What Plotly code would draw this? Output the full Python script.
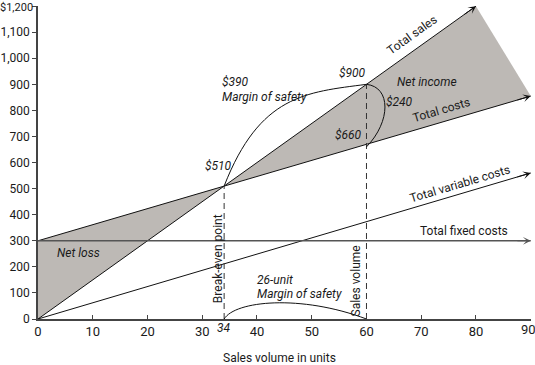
import math
import plotly.graph_objects as go

# ---- data ----
sales_x = [0, 80]
sales_y = [0, 1200]
cost_x = [0, 90]
cost_y = [300, 855]
var_x = [0, 90]
var_y = [0, 560]
fixed_x = [0, 90]
fixed_y = [300, 300]
breakeven_units = 34
breakeven_dollars = 510
volume_units = 60
volume_sales = 900
volume_costs = 660
x_ticks = [0, 10, 20, 30, 40, 50, 60, 70, 80, 90]
y_ticks = [0, 100, 200, 300, 400, 500, 600, 700, 800, 900, 1000, 1100, 1200]
y_labels = ["0", "100", "200", "300", "400", "500", "600", "700", "800", "900",
            "1,000", "1,100", "$1,200"]

FONT = "Roboto, Liberation Sans Narrow, sans-serif"
W, H = 535, 365
M = dict(l=38, r=4, t=6, b=46)
XR = [0, 90.05]
YR = [0, 1200.5]
pxx = (W - M["l"] - M["r"]) / (XR[1] - XR[0])
pxy = (H - M["t"] - M["b"]) / (YR[1] - YR[0])


def angle(xs, ys):
    return -math.degrees(math.atan2((ys[1] - ys[0]) * pxy, (xs[1] - xs[0]) * pxx))


fig = go.Figure()

GRAY = "#bdb9b5"
# Net loss triangle
fig.add_trace(go.Scatter(
    x=[0, 0, breakeven_units, 0], y=[0, fixed_y[0], breakeven_dollars, 0],
    fill="toself", fillcolor=GRAY, line=dict(width=0), mode="lines",
    hoverinfo="skip", showlegend=False))
# Net income region
fig.add_trace(go.Scatter(
    x=[breakeven_units, sales_x[1], cost_x[1], breakeven_units],
    y=[breakeven_dollars, sales_y[1], cost_y[1], breakeven_dollars],
    fill="toself", fillcolor=GRAY, line=dict(width=0), mode="lines",
    hoverinfo="skip", showlegend=False))

# lines
for xs, ys, w, c in [(sales_x, sales_y, 1, "#111"), (cost_x, cost_y, 1, "#111"),
                     (var_x, var_y, 1, "#111"), (fixed_x, fixed_y, 1.6, "#555")]:
    fig.add_trace(go.Scatter(x=xs, y=ys, mode="lines", line=dict(color=c, width=w),
                             hoverinfo="skip", showlegend=False, cliponaxis=False))
    t = 0.97
    fig.add_annotation(x=xs[1], y=ys[1], ax=xs[0] + (xs[1] - xs[0]) * t,
                       ay=ys[0] + (ys[1] - ys[0]) * t, xref="x", yref="y",
                       axref="x", ayref="y", showarrow=True, text="",
                       arrowhead=3, arrowsize=1.3, arrowwidth=1, arrowcolor=c,
                       standoff=0, startstandoff=0)

# dashed verticals
for xv, yv in [(breakeven_units, breakeven_dollars), (volume_units, volume_sales)]:
    fig.add_trace(go.Scatter(x=[xv, xv], y=[0, yv], mode="lines",
                             line=dict(color="#333", width=1, dash="6px,4px"),
                             hoverinfo="skip", showlegend=False))

# curves
shapes = []
shapes.append(dict(type="path", xref="x", yref="y",
                   path=f"M {breakeven_units},{breakeven_dollars} C 40.5,859 48.9,870 {volume_units},{volume_sales}",
                   line=dict(color="#111", width=1)))
shapes.append(dict(type="path", xref="x", yref="y",
                   path=f"M {volume_units},{volume_sales} C 64.5,890 64.5,758 {volume_units},{volume_costs}",
                   line=dict(color="#111", width=1)))
shapes.append(dict(type="path", xref="x", yref="y",
                   path=f"M {breakeven_units},0 C 36,70 48,95 {volume_units},0",
                   line=dict(color="#111", width=1)))

FS = 12


def ann(text, x, y, xanchor="center", italic=False, angle_=0, yref="y", size=FS,
        xref="x", xshift=0, yshift=0):
    t = f"<i>{text}</i>" if italic else text
    fig.add_annotation(x=x, y=y, xref=xref, yref=yref, text=t, showarrow=False,
                       xanchor=xanchor, yanchor="middle", textangle=angle_,
                       xshift=xshift, yshift=yshift,
                       font=dict(family=FONT, size=size, color="#1a1a1a"))


ann("Total sales", 68.3, 1090, angle_=angle(sales_x, sales_y))
ann("Total costs", 73.7, 800, angle_=angle(cost_x, cost_y))
ann("Total variable costs", 77.0, 518, angle_=angle(var_x, var_y))
ann("Total fixed costs", 77.8, 337)
ann("Net loss", 3.1, 253, xanchor="left", italic=True)
ann("$390", 33.2, 909, xanchor="left", italic=True)
ann("Margin of safety", 33.2, 851, xanchor="left", italic=True)
ann(f"${volume_sales}", 57.5, 943, italic=True)
ann(f"${breakeven_dollars}", 33.0, 587, italic=True)
ann(f"${volume_costs}", 56.8, 705, italic=True)
ann(f"${volume_sales - volume_costs}", 66.1, 832, italic=True)
ann("Net income", 71.0, 909, italic=True)
ann("Break-even point", 32.9, 230, angle_=-90)
ann("Sales volume", 58.0, 146, angle_=-90)
ann(f"{volume_units - breakeven_units}-unit", 39.6, 150, xanchor="left", italic=True)
ann("Margin of safety", 39.6, 96, xanchor="left", italic=True)
ann(f"{breakeven_units}", breakeven_units, -0.029, italic=True, yref="paper")
ann("Sales volume in units", 44.2, -0.125, yref="paper")

# edge tick labels (plotly hides labels overflowing the page edge)
x_text = [str(v) for v in x_ticks]
ann(x_text[-1], x_ticks[-1], -0.035, yref="paper", size=13, xshift=-2)
ann(y_labels[-1], 0, y_ticks[-1], xref="paper", xanchor="right", xshift=-3,
    yshift=-1, size=11)
x_text[-1] = ""
y_text = list(y_labels)
y_text[-1] = ""

fig.update_layout(
    width=W, height=H, margin=dict(M, autoexpand=False),
    paper_bgcolor="white", plot_bgcolor="white",
    shapes=shapes, showlegend=False,
    font=dict(family=FONT, size=FS, color="#1a1a1a"),
    xaxis=dict(range=XR, tickvals=x_ticks, ticktext=x_text, showgrid=False, zeroline=False,
               showline=True, linecolor="#444", linewidth=1.5,
               ticks="inside", ticklen=4, tickcolor="#444", automargin=False,
               tickfont=dict(family=FONT, size=13, color="#1a1a1a")),
    yaxis=dict(range=YR, tickvals=y_ticks, ticktext=y_text, showgrid=False,
               zeroline=False, showline=True, linecolor="#444", linewidth=1.5,
               ticks="outside", ticklen=4, tickcolor="#444", automargin=False,
               tickfont=dict(family=FONT, size=12, color="#1a1a1a")),
)

fig.write_html("out.html", config={"displayModeBar": False},
               post_script="document.body.style.margin='0';document.body.style.overflow='hidden';")
